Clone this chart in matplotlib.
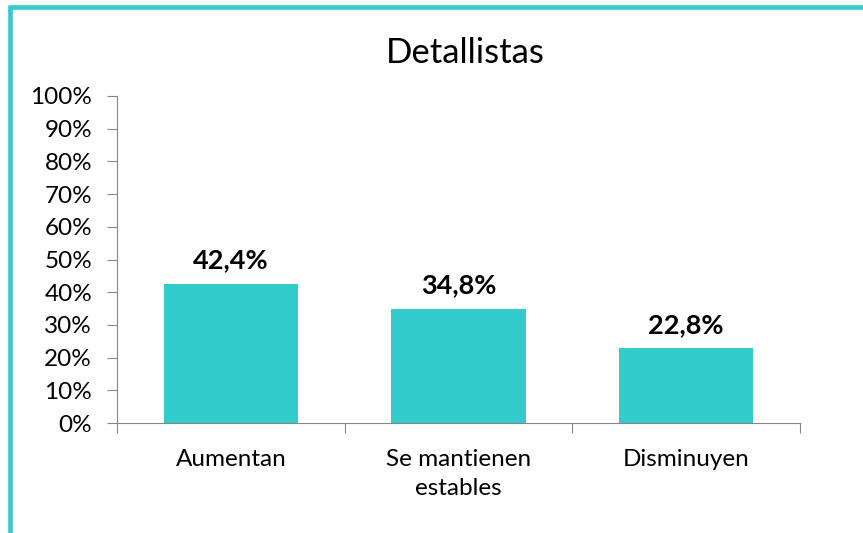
import matplotlib.pyplot as plt
from matplotlib.lines import Line2D
import numpy as np

categories = ["Aumentan", "Se mantienen\nestables", "Disminuyen"]
values = [42.4, 34.8, 22.8]
value_labels = ["42,4%", "34,8%", "22,8%"]
yticks = list(range(0, 101, 10))

plt.rcParams['font.family'] = ['Lato', 'DejaVu Sans']

fig = plt.figure(figsize=(8.63, 5.33), dpi=100)
ax = fig.add_axes([117 / 863, 1 - 423 / 533, (800 - 117) / 863, (423 - 96) / 533])

color = '#33CCCC'
x = np.arange(len(categories))
ax.bar(x, values, width=0.59, color=color, zorder=2)

for xi, v, lab in zip(x, values, value_labels):
    ax.text(xi, v + 3.6, lab, ha='center', va='bottom', fontsize=19.5, fontweight='bold')

ax.set_xlim(-0.5, 2.5)
ax.set_ylim(0, 100)
ax.set_yticks(yticks)
ax.set_yticklabels([f"{t}%" for t in yticks], fontsize=17.5)

# category boundary ticks on the x axis
ax.set_xticks([-0.5, 0.5, 1.5, 2.5])
ax.set_xticklabels([])
ax.set_xticks(x, minor=True)
ax.set_xticklabels(categories, minor=True, fontsize=17.5)
ax.tick_params(axis='x', which='minor', length=0, pad=19)
ax.tick_params(axis='x', which='major', length=7, color='#868686', direction='out')
ax.tick_params(axis='y', length=7, color='#868686', direction='out', pad=11)
for lab in ax.get_xticklabels(minor=True):
    lab.set_linespacing(1.45)

for s in ['top', 'right']:
    ax.spines[s].set_visible(False)
ax.spines['left'].set_color('#868686')
ax.spines['bottom'].set_color('#868686')

fig.text(465 / 863, 1 - 53 / 533, "Detallistas", ha='center', va='center', fontsize=25)

# turquoise frame (top and left edges)
fig.add_artist(Line2D([9.5 / 863, 1], [1 - 7.3 / 533, 1 - 7.3 / 533], color=color, lw=3.3,
                      transform=fig.transFigure, solid_capstyle='butt'))
fig.add_artist(Line2D([9.5 / 863, 9.5 / 863], [0, 1 - 5 / 533], color=color, lw=3.3,
                      transform=fig.transFigure, solid_capstyle='butt'))

fig.savefig('out.png', dpi=100)
